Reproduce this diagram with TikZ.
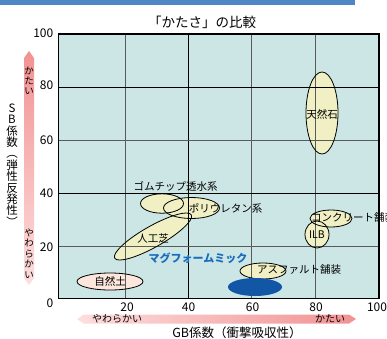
\documentclass[tikz,border=0pt]{standalone}
\usepackage{fontspec}
\setmainfont{Noto Sans CJK JP}
\definecolor{topbar}{HTML}{4F86C4}
\definecolor{plotbg}{HTML}{CBE6E4}
\definecolor{ellfill}{HTML}{F0F0C4}
\definecolor{soilfill}{HTML}{FDE6DC}
\definecolor{magblue}{HTML}{1257A6}
\definecolor{magtext}{HTML}{1A6CC0}
\definecolor{gridgray}{HTML}{5A5A5A}
\definecolor{pinkdark}{HTML}{F29292}
\definecolor{pinklight}{HTML}{FDDEDE}
\tikzset{
  lbl/.style={inner sep=0pt, font=\fontsize{10.5}{12}\selectfont},
  tick/.style={inner sep=0pt, font=\fontsize{12}{13}\selectfont},
  ellbox/.style={draw=black, line width=0.8pt},
  gridline/.style={draw=gridgray, line width=1pt},
  gridbold/.style={draw=black, line width=1pt},
}
\begin{document}
\begin{tikzpicture}[x=1pt,y=-1pt]
\useasboundingbox (0,0) rectangle (387,338);
\fill[white] (0,0) rectangle (387,338);
% top bar
\fill[topbar] (0,0) rectangle (355,5);
% title
\node[inner sep=0pt, font=\fontsize{13.5}{15}\selectfont] (title) at (202,22) {「かたさ」の比較};
% plot background
\fill[plotbg] (58.5,34) rectangle (379,298.5);
% ellipse fills
\fill[ellfill] (322,113) ellipse [x radius=16, y radius=41];
\fill[ellfill] (162,203.5) ellipse [x radius=21.5, y radius=9.7];
\fill[ellfill] (191.5,208) ellipse [x radius=28, y radius=10.5];
\fill[ellfill, rotate around={29.5:(153,236.5)}] (153,236.5) ellipse [x radius=44, y radius=10.5];
\fill[soilfill] (110,281.5) ellipse [x radius=33, y radius=8.5];
\fill[ellfill] (263,271) ellipse [x radius=23, y radius=8];
\fill[ellfill] (331,218.5) ellipse [x radius=21, y radius=8.5];
\fill[ellfill] (317,234.5) ellipse [x radius=12, y radius=13.5];
% grid
\draw[gridline] (125,34) -- (125,298.5);
\draw[gridbold] (188.3,34) -- (188.3,298.5);
\draw[gridline] (251.7,34) -- (251.7,298.5);
\draw[gridline] (315.7,34) -- (315.7,298.5);
\draw[gridbold] (58.5,87) -- (379,87);
\draw[gridline] (58.5,140) -- (379,140);
\draw[gridbold] (58.5,193) -- (379,193);
\draw[gridline] (58.5,246) -- (379,246);
% ellipse outlines
\draw[ellbox] (322,113) ellipse [x radius=16, y radius=41];
\draw[ellbox] (162,203.5) ellipse [x radius=21.5, y radius=9.7];
\draw[ellbox] (191.5,208) ellipse [x radius=28, y radius=10.5];
\draw[ellbox, rotate around={29.5:(153,236.5)}] (153,236.5) ellipse [x radius=44, y radius=10.5];
\draw[ellbox] (110,281.5) ellipse [x radius=33, y radius=8.5];
\draw[ellbox] (263,271) ellipse [x radius=23, y radius=8];
\draw[ellbox] (331,218.5) ellipse [x radius=21, y radius=8.5];
\draw[ellbox] (317,234.5) ellipse [x radius=12, y radius=13.5];
\fill[magblue] (255,287) ellipse [x radius=27, y radius=9];
% frame
\draw[black, line width=1.5pt] (58.5,34) rectangle (379,298.5);
% labels
\node[lbl] (tennen) at (322,114) {天然石};
\node[lbl, anchor=west] (concrete) at (311,218) {コンクリート舗装};
\node[lbl] (ilb) at (317,235) {ILB};
\node[lbl] (gomu) at (175.5,186) {ゴムチップ透水系};
\node[lbl] (poly) at (225.5,208.5) {ポリウレタン系};
\node[lbl] (jinko) at (153,238) {人工芝};
\node[inner sep=0pt, font=\fontsize{11}{12}\selectfont\bfseries, text=magtext] (mag) at (198,258) {マグフォームミック};
\node[lbl] (shizen) at (110,281) {自然土};
\node[lbl, anchor=west] (asphalt) at (257,270) {アスファルト舗装};
% y tick labels
\node[tick, anchor=east] (y100) at (53.5,33.5) {100};
\node[tick, anchor=east] (y80) at (53.5,85.5) {80};
\node[tick, anchor=east] (y60) at (53.5,140) {60};
\node[tick, anchor=east] (y40) at (53.5,193) {40};
\node[tick, anchor=east] (y20) at (53.5,247) {20};
\node[tick, anchor=east] (y0) at (53.5,303) {0};
% x tick labels
\node[tick] (x20) at (127,307) {20};
\node[tick] (x40) at (188.5,307) {40};
\node[tick] (x60) at (252.5,307) {60};
\node[tick] (x80) at (316,307) {80};
\node[tick] (x100) at (377,307) {100};
% y arrow
\shade[top color=pinkdark, bottom color=pinklight] (29,51) -- (34,58) -- (34,278) -- (29,285) -- (24,278) -- (24,58) -- cycle;
\node[inner sep=0pt, align=center, font=\fontsize{9.5}{10}\selectfont] (yhard) at (29,80.5) {か\\た\\い};
\node[inner sep=0pt, align=center, font=\fontsize{9.5}{10.5}\selectfont] (ysoft) at (29,253.5) {や\\わ\\ら\\か\\い};
\node[inner sep=0pt, align=center, font=\fontsize{11.5}{11.4}\selectfont] (ylabel) at (12,165) {S\\B\\係\\数\\︵\\弾\\性\\反\\発\\性\\︶};
% x arrow
\shade[left color=pinklight, right color=pinkdark] (77,319) -- (84,314.5) -- (349,314.5) -- (356,319) -- (349,323.5) -- (84,323.5) -- cycle;
\node[inner sep=0pt, font=\fontsize{10}{11}\selectfont] (xsoft) at (117,318.5) {やわらかい};
\node[inner sep=0pt, font=\fontsize{10}{11}\selectfont] (xhard) at (330,318.5) {かたい};
\node[inner sep=0pt, font=\fontsize{12.5}{13}\selectfont] (xlabel) at (237,333) {GB係数（衝撃吸収性）};
\end{tikzpicture}
\end{document}
